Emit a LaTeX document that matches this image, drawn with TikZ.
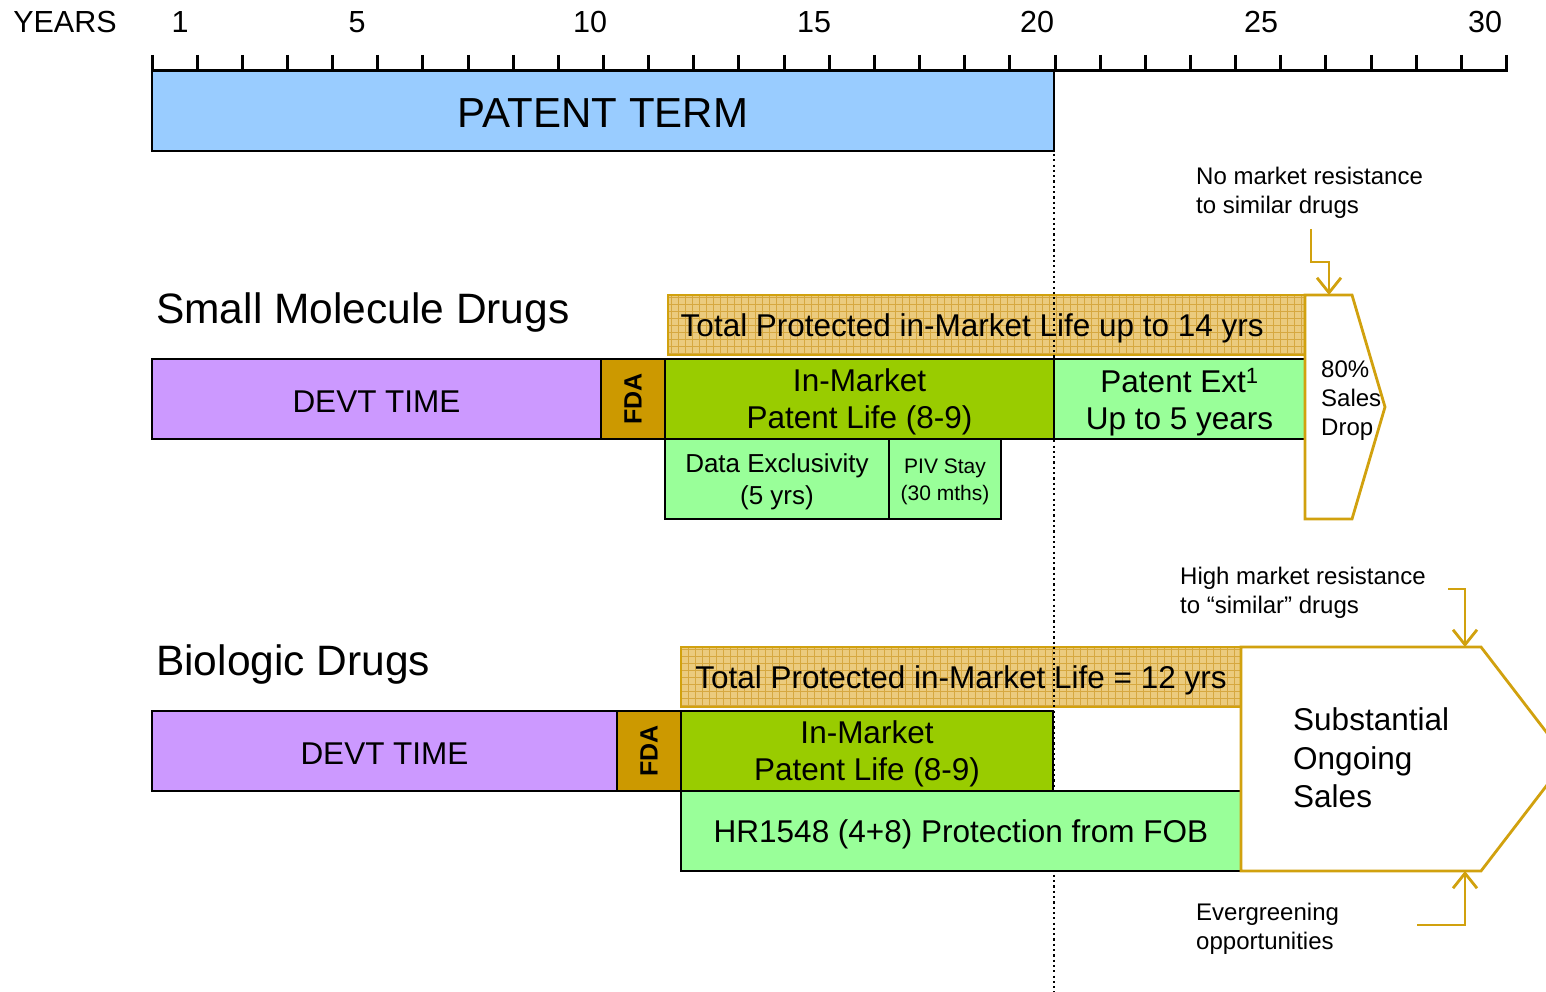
\documentclass[tikz,border=0pt]{standalone}
\usepackage{fontspec}
\setmainfont{Liberation Sans}
\usetikzlibrary{arrows.meta}
\definecolor{patblue}{HTML}{99CCFF}
\definecolor{devt}{HTML}{CC99FF}
\definecolor{fdagold}{HTML}{CC9900}
\definecolor{inmkt}{HTML}{99CC00}
\definecolor{ltgreen}{HTML}{99FF99}
\definecolor{hatchfill}{HTML}{EBCB7E}
\definecolor{hatchline}{HTML}{D6A840}
\definecolor{goldline}{HTML}{D1A10E}
\begin{document}
\begin{tikzpicture}[x=1pt,y=-1pt,
  bx/.style={draw=black, line width=2.8pt, inner sep=0pt, outer sep=0pt, minimum height=80pt},
  bt/.style={align=center, inner sep=0pt, yshift=-3pt, font=\fontsize{31.5}{36.5}\selectfont},
  hatchbox/.style={draw=goldline, line width=2.8pt, fill=hatchfill, inner sep=0pt, outer sep=0pt, minimum height=60pt,
    path picture={\draw[hatchline, line width=0.8pt, step=7pt] (path picture bounding box.south west) grid (path picture bounding box.north east);}},
  fdabox/.style={bx, fill=fdagold, minimum width=64pt},
  fdatext/.style={rotate=90, inner sep=0pt, font=\fontsize{25}{30}\bfseries\selectfont},
  axlabel/.style={font=\fontsize{30.5}{36}\selectfont, inner sep=0pt},
  heading/.style={font=\fontsize{42.5}{48}\selectfont, inner sep=0pt, anchor=west},
  note/.style={font=\fontsize{24}{29}\selectfont, inner sep=0pt, anchor=west, align=left},
  callout/.style={draw=goldline, line width=2.8pt, -{Straight Barb[length=15pt, width=24pt, line width=2.8pt]}},
  goldshape/.style={draw=goldline, line width=2.8pt, fill=white},
  dotline/.style={line width=2.2pt, dash pattern=on 2.2pt off 3.1pt}
]
\useasboundingbox (0,0) rectangle (1546,992);
\clip (0,0) rectangle (1546,992);

% ---- axis ----
\node[axlabel] (years) at (65,22) {YEARS};
\foreach \n/\xx in {1/180,5/357,10/590,15/814,20/1037,25/1261,30/1485}
  \node[axlabel] (y\n) at (\xx,22) {\n};
\coordinate (axl) at (152,70.5);
\coordinate (axr) at (1508,70.5);
\draw[line width=3pt] (axl) -- (axr);
\foreach \i in {0,...,30}
  \draw[line width=3pt] ({152+\i*45.15},55) -- ({152+\i*45.15},70.5);

% ---- patent term ----
\node[bx, fill=patblue, minimum width=902pt] (pt) at (603,111) {};
\node[bt, font=\fontsize{42}{48}\selectfont, yshift=1pt] (ptt) at (pt) {PATENT TERM};

% ---- hatched boxes ----
\node[hatchbox, minimum width=637pt] (smtot) at (986.5,325) {};
\node[bt, anchor=west] (smtott) at (680.5,325) {Total Protected in-Market Life up to 14 yrs};
\node[hatchbox, minimum width=560pt] (biotot) at (961,677) {};
\node[bt] (biotott) at (biotot) {Total Protected in-Market Life = 12 yrs};

% ---- dotted line ----
\coordinate (dotend) at (1054,992);
\draw[dotline] ([yshift=-3pt]pt.south east) -- (dotend);

% ---- small molecule ----
\node[heading] (smh) at (156,313) {Small Molecule Drugs};
\node[bx, fill=devt, minimum width=449pt] (smdevt) at (376.5,399) {};
\node[bt] at (smdevt) {DEVT TIME};
\node[fdabox] (smfda) at (633,399) {};
\node[fdatext] at (smfda) {FDA};
\node[bx, fill=inmkt, minimum width=389pt] (smin) at (859.5,399) {};
\node[bt] at (smin) {In-Market\\Patent Life (8-9)};
\node[bx, fill=ltgreen, minimum width=251pt] (smext) at (1179.5,399) {};
\node[bt] at (smext) {Patent Ext\textsuperscript{1}\\Up to 5 years};
\node[bx, fill=ltgreen, minimum width=224pt] (smdata) at (777,479) {};
\node[bt, font=\fontsize{26}{32}\selectfont] at (smdata) {Data Exclusivity\\(5 yrs)};
\node[bx, fill=ltgreen, minimum width=112pt] (smpiv) at (945,479) {};
\node[bt, font=\fontsize{21}{27}\selectfont] at (smpiv) {PIV Stay\\(30 mths)};

\draw[goldshape] (1305,295) -- (1352,295) -- (1385,407) -- (1352,519) -- (1305,519) -- cycle;
\coordinate (p1top) at (1329,295);
\node[note] (drop) at (1321,401) {80\%\\Sales\\Drop};
\node[note] (nomkt) at (1196,192.5) {No market resistance\\to similar drugs};
\coordinate (c1a) at (1311,229);
\coordinate (c1b) at (1311,262);
\coordinate (c1c) at (1329,262);
\draw[callout] (c1a) -- (c1b) -- (c1c) -- (p1top);

% ---- biologic ----
\node[heading] (bioh) at (156,665) {Biologic Drugs};
\node[bx, fill=devt, minimum width=465pt] (biodevt) at (384.5,751) {};
\node[bt] at (biodevt) {DEVT TIME};
\node[fdabox] (biofda) at (649,751) {};
\node[fdatext] at (biofda) {FDA};
\node[bx, fill=inmkt, minimum width=372pt] (bioin) at (867,751) {};
\node[bt] at (bioin) {In-Market\\Patent Life (8-9)};
\node[bx, fill=ltgreen, minimum width=560pt] (hr) at (961,831) {};
\node[bt] at (hr) {HR1548 (4+8) Protection from FOB};

\draw[goldshape] (1241,647) -- (1481,647) -- (1567,759) -- (1481,871) -- (1241,871) -- cycle;
\coordinate (p2top) at (1465,647);
\coordinate (p2bot) at (1465,871);
\node[note, font=\fontsize{31.5}{38.5}\selectfont] (subst) at (1293,758) {Substantial\\Ongoing\\Sales};
\node[note] (himkt) at (1180,592.5) {High market resistance\\to “similar” drugs};
\node[note] (everg) at (1196,928.5) {Evergreening\\opportunities};
\coordinate (c2a) at (1448,589);
\coordinate (c2b) at (1465,589);
\draw[callout] (c2a) -- (c2b) -- (p2top);
\coordinate (c3a) at (1417,925);
\coordinate (c3b) at (1465,925);
\draw[callout] (c3a) -- (c3b) -- (p2bot);
\end{tikzpicture}
\end{document}
